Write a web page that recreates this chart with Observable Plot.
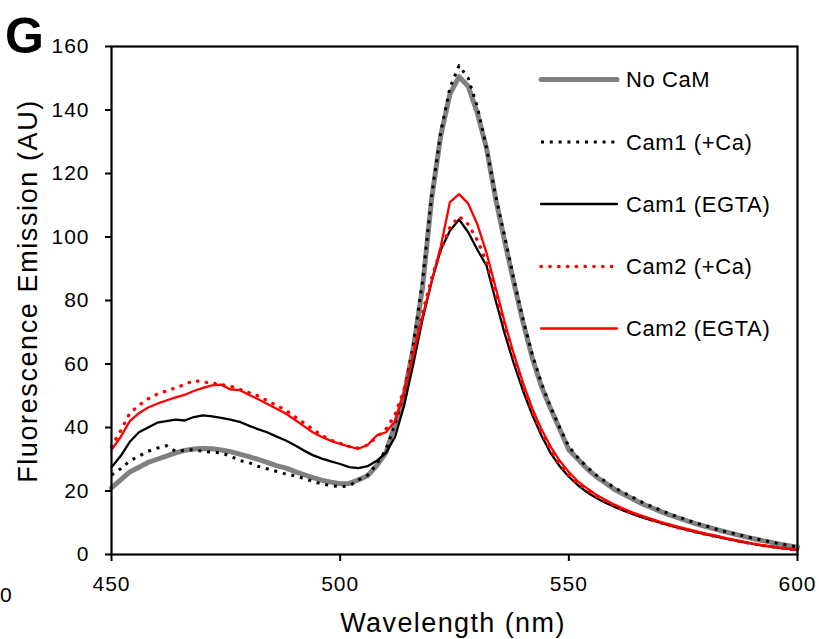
<!DOCTYPE html>
<html><head><meta charset="utf-8">
<script src="https://cdn.jsdelivr.net/npm/d3@7"></script>
<script src="https://cdn.jsdelivr.net/npm/@observablehq/plot@0.6"></script>
<style>
body{margin:0;background:#fff;}
svg{font-family:"Liberation Sans",Arial,sans-serif;}
</style>
</head><body><div id="chart"></div>
<script>
const wavelengths = [
 450,452,454,456,458,460,462,464,466,468,
 470,472,474,476,478,480,482,484,486,488,
 490,492,494,496,498,500,502,504,506,508,
 510,512,514,516,518,520,522,524,526,528,
 530,532,534,536,538,540,542,544,546,548,
 550,552,554,556,558,560,562,564,566,568,
 570,572,574,576,578,580,582,584,586,588,
 590,592,594,596,598,600];

const noCaM = [
 21,23.5,26,27.5,29,30,31,32,32.8,33.2,
 33.4,33.3,32.9,32.4,31.6,30.8,30.0,29.0,28.0,27.3,
 26.2,25.2,24.2,23.4,22.8,22.3,22.4,23.5,24.8,28,
 32,41,50.5,65,84,112,132,145,150.5,147.5,
 139,128,112,98.5,85.5,73,62,53,46,39.5,
 33,30,27,24.5,22.5,20.5,19,17.5,16,14.8,
 13.6,12.5,11.5,10.5,9.6,8.8,8,7.2,6.5,5.8,
 5.1,4.5,3.9,3.3,2.8,2.3];

const cam1Ca = [
 25,27,29.5,31,32.5,33.5,34.3,32.5,32.8,33,
 32.5,32.2,32,31,29.6,29,27.8,27,26.2,25.4,
 24.8,24,23,22.2,21.7,21.4,21.6,23.5,25,28.5,
 33,41,51,66,86,113,133,147,154,150,
 141,128,113,100,86.5,74,63,54,46.5,40,
 34,30.5,27.5,25,23,21,19.5,18,16.5,15.2,
 14,12.8,11.8,10.8,9.8,9,8.1,7.3,6.6,5.9,
 5.2,4.6,4,3.4,2.9,2.4];

const cam1EGTA = [
 27.5,31,35.5,38.5,40,41.5,42,42.5,42.2,43.3,
 43.8,43.5,43,42.5,41.8,40.6,39.5,38.5,37.2,36,
 34.5,32.8,31.3,30.2,29.3,28.5,27.5,27.2,27.8,29.5,
 32,37,47,60,74,86,96,102,105.5,101.5,
 96,91,80,69.5,60,51.5,44,37.5,32,27.8,
 24.5,21.8,19.6,17.8,16.3,15,13.8,12.7,11.7,10.8,
 10,9.2,8.4,7.7,7,6.3,5.7,5.1,4.5,3.9,
 3.4,2.9,2.5,2.1,1.8,1.4];

const cam2Ca = [
 34,39,44.5,47,49,50.5,51.5,52.5,53.5,54.8,
 54.3,54,53.5,53,52,51,50,48.5,47,45.5,
 43.5,41.5,39.5,37.5,36,35,34,33.5,34.5,37,
 39.5,44,52,64,76,87,96,103,106.5,104,
 99,92,82,72,62,53,45,38.5,33,28.5,
 25,22.3,20.2,18.3,16.8,15.3,14,12.9,11.9,10.9,
 10,9.2,8.4,7.7,7,6.3,5.7,5.1,4.5,3.9,
 3.4,2.9,2.5,2.1,1.8,1.4];

const cam2EGTA = [
 33,37,42,44.5,46.3,47.5,48.5,49.5,50.3,51.5,
 52.5,53.3,53.5,52,51.8,50.3,49,47.5,46,44.5,
 42.5,40.5,38.5,37,35.8,34.8,34,33.3,34.5,37.5,
 38.5,42,51,63,75,86,97,111,113.5,110.5,
 104,95,84,73,63,54,46,39.5,34,29.5,
 26,23,20.8,18.8,17.2,15.7,14.4,13.2,12.2,11.2,
 10.3,9.5,8.7,8,7.3,6.6,6,5.3,4.7,4.1,
 3.5,3,2.6,2.2,1.8,1.5];

const seriesNames = ["No CaM","Cam1 (+Ca)","Cam1 (EGTA)","Cam2 (+Ca)","Cam2 (EGTA)"];
const seriesValues = [noCaM, cam1Ca, cam1EGTA, cam2Ca, cam2EGTA];
const xTicks = [450,500,550,600];
const yTicks = [0,20,40,60,80,100,120,140,160];

const styles = [
  {stroke:"#808080", width:5, dash:null, cap:"round"},
  {stroke:"#000000", width:3, dash:"3,5.8", cap:"butt"},
  {stroke:"#000000", width:2.3, dash:null, cap:"round"},
  {stroke:"#ff0000", width:3.4, dash:"0.4,8.4", cap:"round"},
  {stroke:"#ff0000", width:2.3, dash:null, cap:"round"}
];

const rows = seriesNames.map((name,i)=>wavelengths.map((w,j)=>({series:name, x:w, y:seriesValues[i][j]})));

const lineMarks = rows.map((r,i)=>Plot.line(r,{
  x:"x", y:"y", stroke:styles[i].stroke, strokeWidth:styles[i].width,
  strokeDasharray:styles[i].dash || undefined, strokeLinecap:styles[i].cap, strokeLinejoin:"round"
}));

const chart = Plot.plot({
  width:819, height:639,
  marginLeft:111, marginRight:22, marginTop:46, marginBottom:85,
  style:{fontFamily:"Liberation Sans, Arial, sans-serif", fontSize:"21px", color:"#000", background:"#fff", overflow:"visible"},
  x:{domain:[450,600]},
  y:{domain:[0,160]},
  marks:[
    ...lineMarks,
    Plot.frame({stroke:"#000", strokeWidth:2.2}),
    Plot.axisX({ticks:xTicks, tickSize:7, tickPadding:15, strokeWidth:2, label:null, tickFormat:d=>String(d)}),
    Plot.axisY({ticks:yTicks, tickSize:6, tickPadding:16, strokeWidth:2, label:null, tickFormat:d=>String(d)})
  ]
});
document.getElementById("chart").appendChild(chart);

const svg = d3.select(chart);
svg.selectAll("g[aria-label='x-axis tick label'] text, g[aria-label='y-axis tick label'] text").attr("letter-spacing","1px");

// Axis titles
svg.append("text").attr("x",453).attr("y",632).attr("text-anchor","middle")
  .attr("font-size",27).attr("letter-spacing","1.4px").attr("fill","#000").text("Wavelength (nm)");
svg.append("text").attr("transform","translate(37,291) rotate(-90)").attr("text-anchor","middle")
  .attr("font-size",27).attr("letter-spacing","1.6px").attr("fill","#000").text("Fluorescence Emission (AU)");

// Panel letter and neighbour label
svg.append("text").attr("x",5).attr("y",52.5).attr("text-anchor","start").attr("font-size",50).attr("font-weight","bold").attr("fill","#000").text("G");
svg.append("text").attr("x",0).attr("y",602).attr("text-anchor","start").attr("font-size",21).attr("fill","#000").text("0");

// Legend
const legendY = [79.5, 142, 204, 266.5, 328.5];
const lg = svg.append("g");
seriesNames.forEach((name,i)=>{
  const s = styles[i];
  lg.append("line").attr("x1",541).attr("x2",617).attr("y1",legendY[i]).attr("y2",legendY[i])
    .attr("stroke",s.stroke).attr("stroke-width",s.width).attr("stroke-linecap",s.cap)
    .attr("stroke-dasharray",s.dash);
  lg.append("text").attr("x",626).attr("y",legendY[i]).attr("dy","0.36em").attr("text-anchor","start")
    .attr("font-size",22).attr("letter-spacing","0.6px").attr("fill","#000").text(name);
});
</script>
</body></html>
